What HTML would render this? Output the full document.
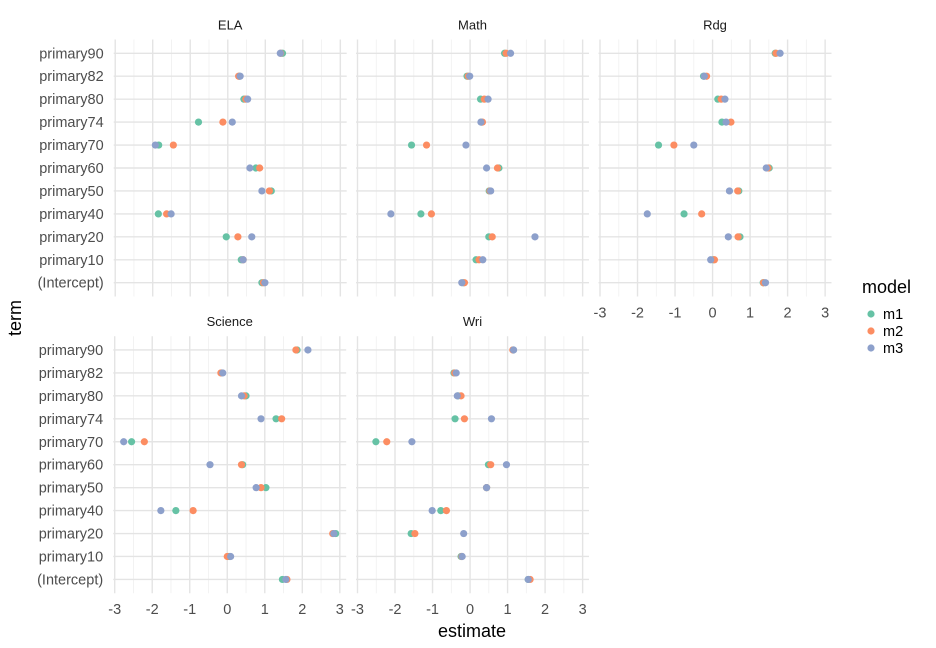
<!DOCTYPE html>
<html><head><meta charset="utf-8">
<style>
html,body{margin:0;padding:0;background:#fff;}
svg{display:block;font-family:"Liberation Sans",Arial,sans-serif;}
</style></head>
<body>
<svg id="chart" width="936" height="648" viewBox="0 0 936 648" xmlns="http://www.w3.org/2000/svg">
<g id="layer"></g>
<text x="472" y="637" font-size="18" fill="#000" text-anchor="middle">estimate</text>
<text x="0" y="0" font-size="18" fill="#000" text-anchor="middle" transform="translate(21,318) rotate(-90)">term</text>
<g>
<text x="862" y="293" font-size="18" fill="#000">model</text>
<circle cx="871" cy="314" r="3.6" fill="#66C2A5"/>
<text x="883" y="319" font-size="14.5" fill="#000">m1</text>
<circle cx="871" cy="331" r="3.6" fill="#FC8D62"/>
<text x="883" y="336" font-size="14.5" fill="#000">m2</text>
<circle cx="871" cy="348" r="3.6" fill="#8DA0CB"/>
<text x="883" y="353" font-size="14.5" fill="#000">m3</text>
</g>
</svg>
<script>
const terms = ["primary90","primary82","primary80","primary74","primary70","primary60","primary50","primary40","primary20","primary10","(Intercept)"];
const xTicks = [-3,-2,-1,0,1,2,3];
const models = ["m1","m2","m3"];
const colors = ["#66C2A5","#FC8D62","#8DA0CB"];
const panels = ["ELA","Math","Rdg","Science","Wri"];
const ELA_m1 = [1.46,0.31,0.43,-0.78,-1.84,0.75,1.16,-1.85,-0.04,0.36,0.91];
const ELA_m2 = [1.41,0.29,0.48,-0.13,-1.45,0.85,1.11,-1.63,0.27,0.41,0.95];
const ELA_m3 = [1.40,0.33,0.53,0.12,-1.93,0.59,0.91,-1.51,0.64,0.41,0.99];
const Math_m1 = [0.92,-0.08,0.28,0.30,-1.56,0.77,0.51,-1.31,0.50,0.16,-0.18];
const Math_m2 = [0.96,-0.05,0.38,0.33,-1.16,0.73,0.53,-1.03,0.59,0.24,-0.15];
const Math_m3 = [1.08,-0.01,0.48,0.29,-0.11,0.44,0.55,-2.11,1.73,0.34,-0.22];
const Rdg_m1 = [1.67,-0.24,0.14,0.25,-1.44,1.51,0.70,-0.76,0.73,0.02,1.35];
const Rdg_m2 = [1.69,-0.16,0.23,0.49,-1.03,1.48,0.67,-0.29,0.68,0.05,1.36];
const Rdg_m3 = [1.80,-0.22,0.33,0.36,-0.50,1.43,0.45,-1.74,0.42,-0.05,1.41];
const Science_m1 = [1.86,-0.15,0.50,1.30,-2.55,0.41,1.03,-1.37,2.89,0.05,1.47];
const Science_m2 = [1.83,-0.17,0.45,1.45,-2.21,0.38,0.90,-0.91,2.81,0.00,1.59];
const Science_m3 = [2.15,-0.12,0.38,0.90,-2.76,-0.46,0.77,-1.77,2.84,0.09,1.56];
const Wri_m1 = [1.15,-0.43,-0.32,-0.40,-2.51,0.49,0.44,-0.78,-1.57,-0.24,1.55];
const Wri_m2 = [1.14,-0.41,-0.24,-0.15,-2.22,0.55,0.44,-0.63,-1.47,-0.22,1.60];
const Wri_m3 = [1.16,-0.37,-0.34,0.57,-1.55,0.97,0.44,-1.01,-0.17,-0.21,1.55];
const panelData = {
  ELA:[ELA_m1,ELA_m2,ELA_m3],
  Math:[Math_m1,Math_m2,Math_m3],
  Rdg:[Rdg_m1,Rdg_m2,Rdg_m3],
  Science:[Science_m1,Science_m2,Science_m3],
  Wri:[Wri_m1,Wri_m2,Wri_m3]
};

const NS = "http://www.w3.org/2000/svg";
const layer = document.getElementById("layer");
function mk(tag, attrs, parent){
  const e = document.createElementNS(NS, tag);
  for (const k in attrs) e.setAttribute(k, attrs[k]);
  (parent||layer).appendChild(e);
  return e;
}
const xMin = -3.04, xMax = 3.17, pw = 233;
const layout = [
  {left:113.7, top:39.5, bottom:296.5, showY:true, showX:false},
  {left:356.0, top:39.5, bottom:296.5, showY:false, showX:false},
  {left:598.5, top:39.5, bottom:296.5, showY:false, showX:true},
  {left:113.2, top:336.2, bottom:593.2, showY:true, showX:true},
  {left:356.0, top:336.2, bottom:593.2, showY:false, showX:true}
];
panels.forEach((p, pi) => {
  const L = layout[pi];
  const xs = v => L.left + (v - xMin) / (xMax - xMin) * pw;
  const n = terms.length;
  const step = (L.bottom - L.top) / (n - 1 + 1.2);
  const ys = i => L.top + step * (0.6 + i);
  const g = mk("g", {});
  
  
  for (let k = 0; k < xTicks.length - 1; k++) {
    const v = (xTicks[k] + xTicks[k+1]) / 2;
    const ln = mk("line", {x1:xs(v), x2:xs(v), y1:L.top, y2:L.bottom, stroke:"#f0f0f0", "stroke-width":0.8}, g);
    
    
  }
  xTicks.forEach(v => {
    const ln = mk("line", {x1:xs(v), x2:xs(v), y1:L.top, y2:L.bottom, stroke:"#e4e4e4", "stroke-width":1.4}, g);
    
    
  });
  terms.forEach((t, i) => {
    const ln = mk("line", {x1:L.left, x2:L.left + pw, y1:ys(i), y2:ys(i), stroke:"#e4e4e4", "stroke-width":1.4}, g);
    
    
    if (L.showY) {
      const tx = mk("text", {x:L.left - 10, y:ys(i) + 5, "font-size":14.5, fill:"#4d4d4d", "text-anchor":"end"}, g);
      tx.textContent = t;
      
      
    }
  });
  if (L.showX) {
    xTicks.forEach(v => {
      const tx = mk("text", {x:xs(v), y:L.bottom + 21, "font-size":14.5, fill:"#4d4d4d", "text-anchor":"middle"}, g);
      tx.textContent = String(v);
      
      
    });
  }
  const st = mk("text", {x:L.left + pw/2, y:L.top - 10, "font-size":13, fill:"#1a1a1a", "text-anchor":"middle"}, g);
  st.textContent = p;
  
  
  panelData[p].forEach((series, mi) => {
    series.forEach((v, i) => {
      const c = mk("circle", {cx:xs(v), cy:ys(i), r:3.6, fill:colors[mi]}, g);
      
      
    });
  });
});
</script>
</body></html>
